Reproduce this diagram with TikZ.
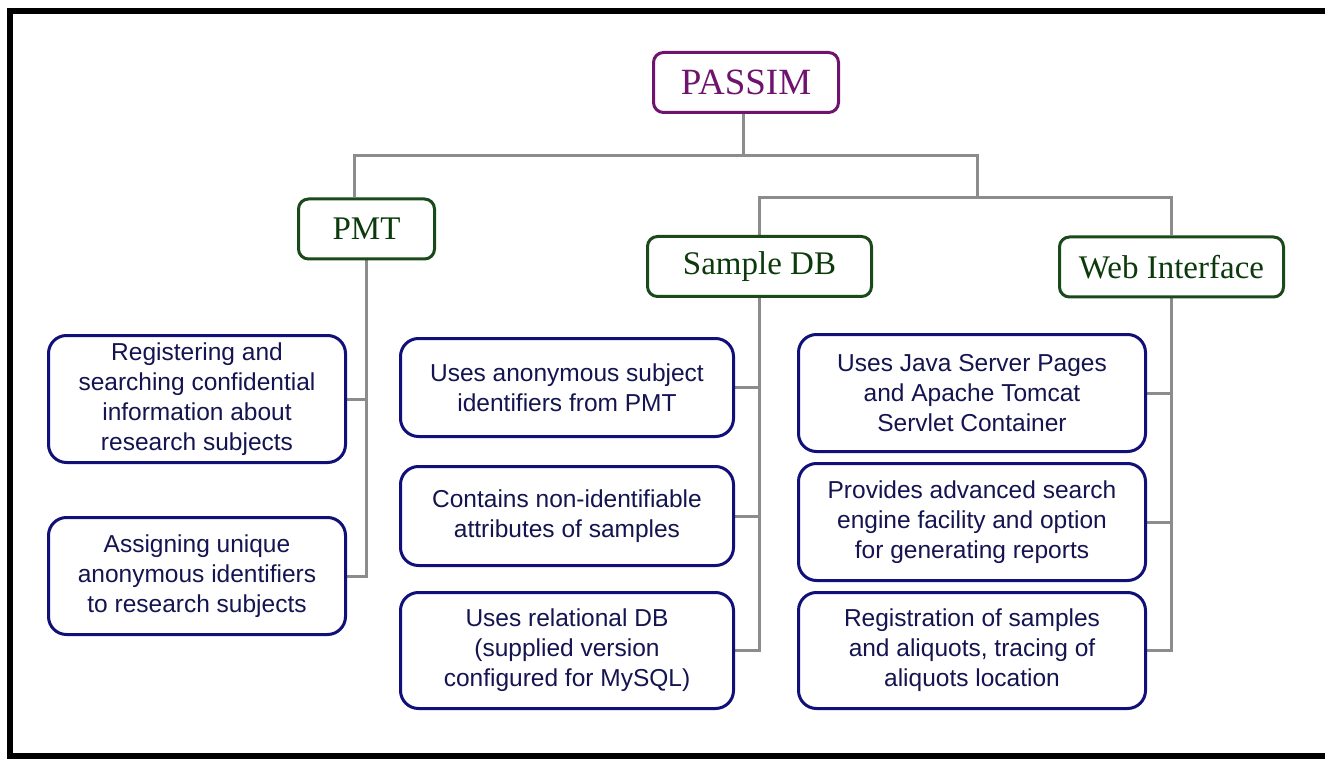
\documentclass[tikz,border=0pt]{standalone}
\usepackage{fontspec}
\setmainfont{Liberation Serif}
\newfontfamily\leaffont{Liberation Sans}
\usetikzlibrary{backgrounds}
\definecolor{navy}{RGB}{16,16,120}
\definecolor{navytext}{RGB}{20,20,80}
\definecolor{darkgreen}{RGB}{26,74,26}
\definecolor{greentext}{RGB}{12,58,12}
\definecolor{plum}{RGB}{110,20,110}
\definecolor{linkgray}{RGB}{140,140,140}

\begin{document}
\begin{tikzpicture}
[x=1pt,y=-1pt,
head/.style={draw=plum,text=plum,line width=3pt,rounded corners=10pt,fill=white,minimum width=185pt,minimum height=60pt,inner sep=0pt,font=\fontsize{37}{40}\selectfont},
sub/.style={draw=darkgreen,text=greentext,line width=3pt,rounded corners=10pt,fill=white,minimum height=60pt,inner sep=0pt,font=\fontsize{33}{36}\selectfont},
leaf/.style={draw=navy,text=navytext,line width=3pt,rounded corners=18pt,fill=white,align=center,inner sep=0pt,font=\leaffont\fontsize{24.5}{30}\selectfont},
link/.style={draw=linkgray,line width=3pt},]

\useasboundingbox (0,0) rectangle (1325,759);
% frame, open on the right
\draw[line width=6pt] (1335,11) -- (10,11) -- (10,756) -- (1335,756);

\node (PASSIM) at (746,82.5)[head]{PASSIM};

\node (PMT) at (366.5,229)[sub,minimum width=136pt]{PMT};
\node (SDB) at (759.5,266.5)[sub,minimum width=224pt]{Sample DB};
\node (WEB) at (1171.5,267)[sub,minimum width=224pt]{Web Interface};

\node (L1) at (197,399)[leaf,minimum width=297pt,minimum height=127pt]{Registering and\\searching confidential\\information about\\research subjects};
\node (L2) at (197,576)[leaf,minimum width=297pt,minimum height=117pt]{Assigning unique\\anonymous identifiers\\to research subjects};

\node (M1) at (567,387.5)[leaf,minimum width=333pt,minimum height=98pt]{Uses anonymous subject\\identifiers from PMT};
\node (M2) at (567,516)[leaf,minimum width=333pt,minimum height=99pt]{Contains non-identifiable\\attributes of samples};
\node (M3) at (567,650.5)[leaf,minimum width=333pt,minimum height=116pt]{Uses relational DB\\(supplied version\\configured for MySQL)};

\node (R1) at (972,393)[leaf,minimum width=347pt,minimum height=117pt]{Uses Java Server Pages\\and Apache Tomcat\\Servlet Container};
\node (R2) at (972,522)[leaf,minimum width=347pt,minimum height=117pt]{Provides advanced search\\engine facility and option\\for generating reports};
\node (R3) at (972,650.5)[leaf,minimum width=347pt,minimum height=116pt]{Registration of samples\\and aliquots, tracing of\\aliquots location};

\coordinate (hub1) at (743,155.5);
\coordinate (hub2) at (977,197.5);

\begin{scope}[on background layer]
\draw[link] (PASSIM.south -| hub1) -- (hub1);
\draw[link] (hub1) -| ([xshift=-12pt]PMT.north);
\draw[link] (hub1) -| (hub2);
\draw[link] (hub2) -| (SDB.north);
\draw[link] (hub2) -| (WEB.north);

\draw[link] (PMT.south) |- (L1.east);
\draw[link] (PMT.south) |- (L2.east);
\draw[link] (SDB.south) |- (M1.east);
\draw[link] (SDB.south) |- (M2.east);
\draw[link] (SDB.south) |- (M3.east);
\draw[link] (WEB.south) |- (R1.east);
\draw[link] (WEB.south) |- (R2.east);
\draw[link] (WEB.south) |- (R3.east);
\end{scope}

\end{tikzpicture}
\end{document}
